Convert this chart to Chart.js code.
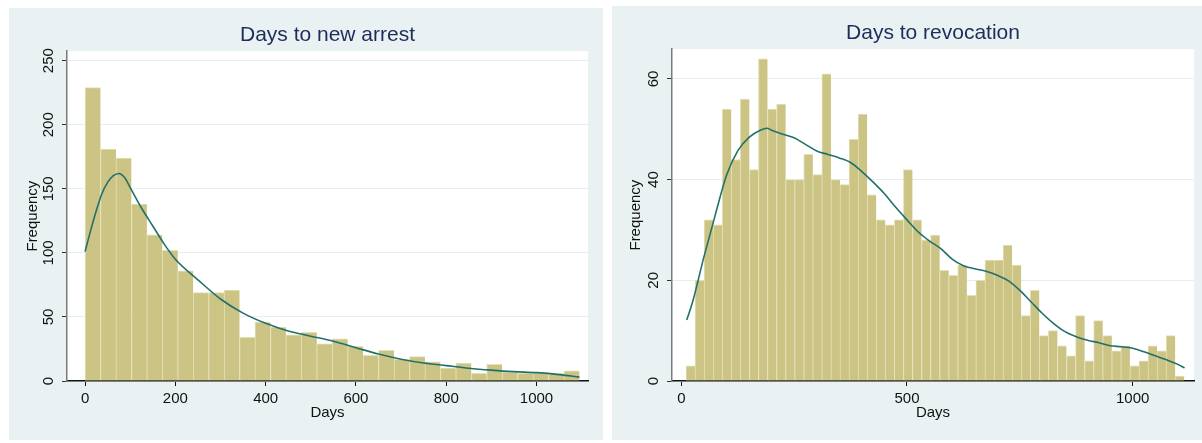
<!DOCTYPE html>
<html>
<head>
<meta charset="utf-8">
<script src="https://cdn.jsdelivr.net/npm/chart.js@4/dist/chart.umd.min.js"></script>
<style>
  html, body { margin: 0; padding: 0; background: #ffffff; width: 1202px; height: 443px; overflow: hidden; }
  .panel { position: absolute; background: #EAF1F3; }
  #p1 { left: 9px; top: 8px; width: 594px; height: 432px; }
  #p2 { left: 612px; top: 6px; width: 590px; height: 434px; }
  canvas { display: block; }
</style>
</head>
<body>
<div class="panel" id="p1"><canvas id="c1" width="594" height="432"></canvas></div>
<div class="panel" id="p2"><canvas id="c2" width="590" height="434"></canvas></div>
<script>
// ---------- data ----------
const arrestTitle = "Days to new arrest";
const revocationTitle = "Days to revocation";
const xAxisLabel = "Days";
const yAxisLabel = "Frequency";

// histogram: Days to new arrest (32 bins)
const arrestBinStart = 0;
const arrestBinWidth = 34.22;
const arrestCounts = [229,181,174,138,114,102,86,69,69,71,34,46,42,36,38,29,33,27,20,24,17,19,15,10,14,6,13,7,6,6,6,8];
// density overlay (scaled to frequency)
const arrestCurveDays = [0,12,25,37,50,62,75,87,100,125,150,175,200,250,300,350,400,450,500,550,600,650,700,750,800,850,900,950,1000,1050,1095];
const arrestCurveFreq = [101,117,133,146,155,160,162,159,151,135,121,107,95,79,64,53,45,39,35,31,26,21,17,14,12,10,8.5,7.3,6.5,5,3];
const arrestXTicks = [0,200,400,600,800,1000];
const arrestYTicks = [0,50,100,150,200,250];

// histogram: Days to revocation (55 bins)
const revocationBinStart = 10.4;
const revocationBinWidth = 20.07;
const revocationCounts = [3,20,32,31,54,44,56,42,64,54,55,40,40,45,41,61,40,39,48,53,37,32,31,32,42,32,28,29,22,21,23,17,20,24,24,27,23,13,18,9,10,7,5,13,4,12,9,6,7,3,4,7,6,9,1];
const revocationCurveDays = [12,25,50,75,100,125,150,175,190,200,225,250,275,300,325,350,375,400,425,450,475,500,525,550,575,600,625,650,675,700,725,750,775,800,825,850,875,900,925,950,975,1000,1025,1050,1075,1100,1115];
const revocationCurveFreq = [12.1,15.7,24.6,32.9,40.8,45.7,48.4,49.8,50.2,49.8,49,48.3,47,45.7,45,44.3,43.4,41.6,39.5,37.2,34.5,32,29.6,27.8,26.3,24.2,22.9,22.3,21.8,21,19.9,18,15.7,13.4,11.4,9.8,8.8,8.1,7.6,7,6.8,6.5,5.8,5,4.2,3.3,2.6];
const revocationXTicks = [0,500,1000];
const revocationYTicks = [0,20,40,60];

// ---------- styles ----------
const FONT = "'Liberation Sans', Arial, Helvetica, sans-serif";
const barFill = '#CCC484';
const barEdge = '#E4E0B4';
const lineColor = '#22706B';
const titleColor = '#1D2C59';

const plotBg = {
  id: 'plotBg',
  beforeDraw(chart) {
    const {ctx, chartArea: a} = chart;
    ctx.save();
    ctx.fillStyle = '#ffffff';
    ctx.fillRect(a.left, a.top, a.right - a.left, a.bottom - a.top);
    ctx.restore();
  }
};

function makeChart(canvasId, cfg) {
  const bars = cfg.counts.map((c, i) => ({ x: cfg.binStart + (i + 0.5) * cfg.binWidth, y: c }));
  const curve = cfg.curveDays.map((d, i) => ({ x: d, y: cfg.curveFreq[i] }));
  return new Chart(document.getElementById(canvasId), {
    type: 'bar',
    data: {
      datasets: [
        {
          type: 'line',
          data: curve,
          borderColor: lineColor,
          borderWidth: 1.6,
          pointRadius: 0,
          fill: false,
          cubicInterpolationMode: 'monotone',
          order: 0
        },
        {
          type: 'bar',
          data: bars,
          backgroundColor: barFill,
          borderColor: barEdge,
          borderWidth: { top: 1, left: 1, right: 0, bottom: 0 },
          borderSkipped: false,
          barPercentage: 1,
          categoryPercentage: 1,
          order: 1
        }
      ]
    },
    options: {
      responsive: false,
      animation: false,
      devicePixelRatio: 1,
      layout: { padding: { left: 0, right: cfg.padRight, top: 0, bottom: 0 } },
      plugins: {
        legend: { display: false },
        tooltip: { enabled: false },
        title: {
          display: true,
          fullSize: false,
          text: cfg.title,
          color: titleColor,
          font: { family: FONT, size: 21, weight: 'normal', lineHeight: 1.2 },
          padding: { top: 15, bottom: 3 }
        }
      },
      scales: {
        x: {
          type: 'linear',
          offset: false,
          min: cfg.xMin,
          max: cfg.xMax,
          afterBuildTicks(s) { s.ticks = cfg.xTicks.map(v => ({ value: v })); },
          afterFit(s) { s.height = 59; },
          ticks: {
            color: '#111111',
            font: { family: FONT, size: 15 },
            padding: 4,
            maxRotation: 0,
            minRotation: 0,
            callback: v => String(v)
          },
          grid: { offset: false, drawOnChartArea: false, drawTicks: true, tickLength: 5, tickColor: '#111111', tickWidth: 1 },
          border: { display: true, color: '#111111', width: 1.5 },
          title: {
            display: true,
            text: xAxisLabel,
            color: '#111111',
            font: { family: FONT, size: 15, lineHeight: 1.2 },
            padding: { top: 0, bottom: 18 }
          }
        },
        y: {
          type: 'linear',
          min: 0,
          max: cfg.yMax,
          afterBuildTicks(s) { s.ticks = cfg.yTicks.map(v => ({ value: v })); },
          afterFit(s) { s.width = cfg.yAxisWidth; },
          ticks: {
            color: '#111111',
            font: { family: FONT, size: 15 },
            minRotation: 90,
            maxRotation: 90,
            crossAlign: 'center',
            padding: cfg.yTickPad,
            callback: v => String(v)
          },
          grid: { color: '#E6EEF1', lineWidth: 1, drawTicks: true, tickLength: 5, tickColor: '#333333', tickWidth: 1 },
          border: { display: true, color: '#7A7A7A', width: 1.5 },
          title: {
            display: true,
            text: yAxisLabel,
            color: '#111111',
            font: { family: FONT, size: 15, lineHeight: 1.2 },
            padding: { top: 15, bottom: 0 }
          }
        }
      }
    },
    plugins: [plotBg]
  });
}

makeChart('c1', {
  title: arrestTitle,
  counts: arrestCounts, binStart: arrestBinStart, binWidth: arrestBinWidth,
  curveDays: arrestCurveDays, curveFreq: arrestCurveFreq,
  xTicks: arrestXTicks, yTicks: arrestYTicks,
  xMin: -40, xMax: 1114, yMax: 257.4,
  yAxisWidth: 58, padRight: 15, yTickPad: 0.5
});

makeChart('c2', {
  title: revocationTitle,
  counts: revocationCounts, binStart: revocationBinStart, binWidth: revocationBinWidth,
  curveDays: revocationCurveDays, curveFreq: revocationCurveFreq,
  xTicks: revocationXTicks, yTicks: revocationYTicks,
  xMin: -20.6, xMax: 1135.8, yMax: 65.9,
  yAxisWidth: 60, padRight: 8, yTickPad: 5
});
</script>
</body>
</html>
